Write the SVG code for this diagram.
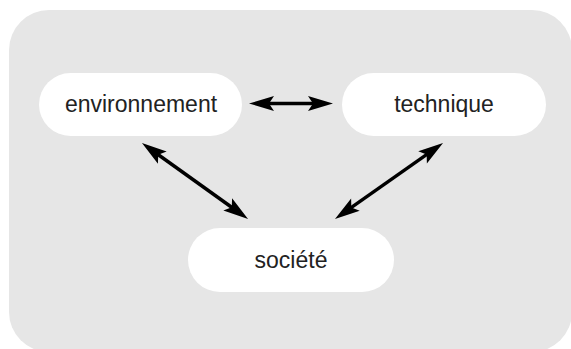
<svg xmlns="http://www.w3.org/2000/svg" width="571" height="349" viewBox="0 0 571 349">
<style>
.node{fill:#ffffff}
.lbl{font-family:"Liberation Sans",Arial,sans-serif;font-size:23px;fill:#222222;text-anchor:middle}
.conn{stroke:#000000;stroke-width:3.4;fill:none;marker-start:url(#ah);marker-end:url(#ah)}
</style>
<defs>
<marker id="ah" markerUnits="userSpaceOnUse" viewBox="-8 -8 28 16" refX="0" refY="0" markerWidth="28" markerHeight="16" orient="auto-start-reverse" overflow="visible">
<path d="M18,0 L-7,-7.5 L-2,0 L-7,7.5 Z" fill="#000000"/>
</marker>
</defs>
<rect x="9" y="10" width="563" height="342" rx="40" ry="40" fill="#e6e6e6"/>
<g id="environnement">
<rect class="node" x="39" y="73" width="203" height="63" rx="31.5"/>
<text class="lbl" x="141" y="112">environnement</text>
</g>
<g id="technique">
<rect class="node" x="342" y="73" width="204" height="63" rx="31.5"/>
<text class="lbl" x="444" y="112">technique</text>
</g>
<g id="societe">
<rect class="node" x="188" y="228" width="206" height="64" rx="32"/>
<text class="lbl" x="291" y="268">société</text>
</g>
<g id="connectors">
<line class="conn" x1="267" y1="103.5" x2="315" y2="103.5"/>
<line class="conn" x1="156.6" y1="153.5" x2="233.4" y2="208.5"/>
<line class="conn" x1="428.3" y1="153.4" x2="349.7" y2="208.6"/>
</g>
</svg>
